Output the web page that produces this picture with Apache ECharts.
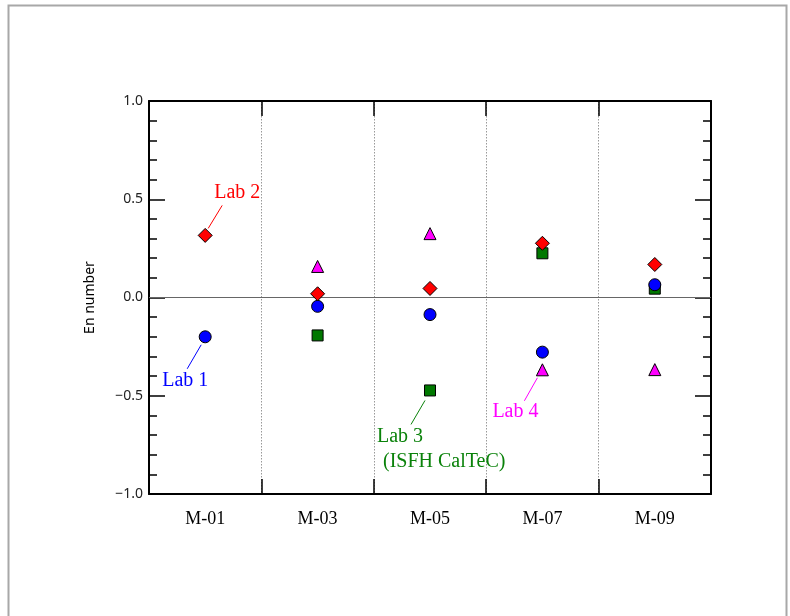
<!DOCTYPE html>
<html>
<head>
<meta charset="utf-8">
<script src="https://cdn.jsdelivr.net/npm/echarts@6/dist/echarts.min.js"></script>
<style>
html,body{margin:0;padding:0;background:#fff;}
#main{width:790px;height:616px;}
</style>
</head>
<body>
<div id="main"></div>
<script>
// ---- data ----
var categories = ['M-01', 'M-03', 'M-05', 'M-07', 'M-09'];
var lab1 = [-0.20, -0.045, -0.087, -0.278, 0.065];
var lab2 = [0.316, 0.019, 0.046, 0.276, 0.168];
var lab3 = [null, -0.193, -0.473, 0.225, 0.045];
var lab4 = [null, 0.158, 0.325, -0.368, -0.367];
var yTicks = [-1.0, -0.5, 0.0, 0.5, 1.0];

var chart = echarts.init(document.getElementById('main'), null, {renderer: 'canvas'});

function fmt(v) {
  var s = Math.abs(v).toFixed(1);
  return v < 0 ? '\u2212' + s : s;
}

var tickFont = {fontFamily: 'Noto Sans', fontSize: 14, color: '#222'};

function scatter(name, data, symbol, size, color, z) {
  return {
    name: name,
    type: 'scatter',
    data: data,
    symbol: symbol,
    symbolSize: size,
    z: z,
    itemStyle: {color: color, borderColor: '#000', borderWidth: 1, opacity: 1},
    emphasis: {disabled: true}
  };
}

var option = {
  animation: false,
  backgroundColor: '#fff',
  grid: {left: 149, right: 79, top: 101, bottom: 122},
  xAxis: [{
    type: 'category',
    data: categories,
    boundaryGap: true,
    position: 'bottom',
    axisLine: {onZero: false, lineStyle: {color: '#000', width: 2}},
    axisTick: {show: true, inside: true, length: 15, lineStyle: {color: '#000', width: 1.5}},
    axisLabel: {margin: 16, fontFamily: 'Liberation Serif', fontSize: 18, color: '#000'},
    splitLine: {show: true, lineStyle: {color: '#999', type: [1.5, 1.5], width: 1}}
  }, {
    type: 'category',
    data: categories,
    boundaryGap: true,
    position: 'top',
    axisLine: {onZero: false, lineStyle: {color: '#000', width: 2}},
    axisTick: {show: true, inside: true, length: 15, lineStyle: {color: '#000', width: 1.5}},
    axisLabel: {show: false},
    splitLine: {show: false}
  }],
  yAxis: [{
    type: 'value',
    min: yTicks[0], max: yTicks[yTicks.length - 1], interval: 0.5,
    position: 'left',
    name: 'En number',
    nameLocation: 'middle',
    nameGap: 52,
    nameTextStyle: {fontFamily: 'Noto Sans', fontSize: 14, color: '#000'},
    axisLine: {show: true, onZero: false, lineStyle: {color: '#000', width: 2}},
    axisTick: {show: true, inside: true, length: 16, lineStyle: {color: '#000', width: 1.5}},
    minorTick: {show: true, splitNumber: 5, length: 8, lineStyle: {color: '#000', width: 1.5}},
    axisLabel: Object.assign({margin: 6, formatter: fmt}, tickFont),
    splitLine: {show: false}
  }, {
    type: 'value',
    min: yTicks[0], max: yTicks[yTicks.length - 1], interval: 0.5,
    position: 'right',
    axisLine: {show: true, onZero: false, lineStyle: {color: '#000', width: 2}},
    axisTick: {show: true, inside: true, length: 16, lineStyle: {color: '#000', width: 1.5}},
    minorTick: {show: true, splitNumber: 5, length: 8, lineStyle: {color: '#000', width: 1.5}},
    axisLabel: {show: false},
    splitLine: {show: false}
  }],
  series: [
    {
      type: 'line', data: [], z: 1,
      markLine: {
        silent: true, symbol: 'none', label: {show: false},
        lineStyle: {color: '#666', width: 1, type: 'solid'},
        data: [{yAxis: 0}]
      }
    },
    scatter('Lab 3', lab3, 'rect', 11, '#007800', 3),
    scatter('Lab 1', lab1, 'circle', 12, '#0000ff', 4),
    scatter('Lab 4', lab4, 'triangle', 12, '#ff00ff', 5),
    scatter('Lab 2', lab2, 'diamond', 14, '#ff0000', 6)
  ]
};
chart.setOption(option);

// ---- annotations, anchored to data points ----
var annotations = [
  {text: ['Lab 2'], series: lab2, idx: 0, color: '#ff0000',
   line: [3, -7, 17, -30], txt: [9, -43]},
  {text: ['Lab 1'], series: lab1, idx: 0, color: '#0000ff',
   line: [-4, 8, -18, 32], txt: [-43, 44]},
  {text: ['Lab 3', '(ISFH CalTeC)'], series: lab3, idx: 2, color: '#0a820a',
   line: [-5, 10, -19, 34], txt: [-53, 46], txt2: [-47, 71]},
  {text: ['Lab 4'], series: lab4, idx: 3, color: '#ff00ff',
   line: [-5, 8, -18, 31], txt: [-50, 42]}
];
var graphics = [{
  type: 'rect', silent: true, z: 0,
  shape: {x: 8.5, y: 5.5, width: 778, height: 640},
  style: {fill: 'none', stroke: '#a8a8a8', lineWidth: 2}
}];
annotations.forEach(function (a) {
  var p = chart.convertToPixel({xAxisIndex: 0, yAxisIndex: 0}, [a.idx, a.series[a.idx]]);
  graphics.push({
    type: 'line', silent: true, z: 10,
    shape: {x1: p[0] + a.line[0], y1: p[1] + a.line[1], x2: p[0] + a.line[2], y2: p[1] + a.line[3]},
    style: {stroke: a.color, lineWidth: 1}
  });
  var offs = [a.txt, a.txt2];
  a.text.forEach(function (t, i) {
    graphics.push({
      type: 'text', silent: true, z: 10,
      x: p[0] + offs[i][0], y: p[1] + offs[i][1],
      style: {text: t, fill: a.color, font: '20px "Liberation Serif"', textAlign: 'left', textVerticalAlign: 'middle'}
    });
  });
});
chart.setOption({graphic: graphics});
</script>
</body>
</html>
